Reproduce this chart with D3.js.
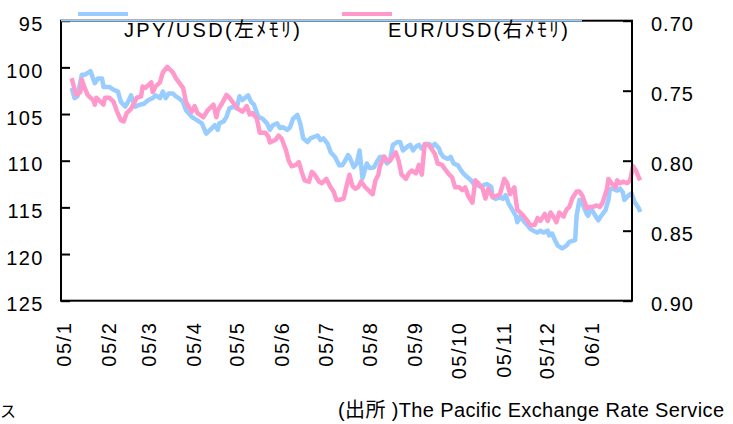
<!DOCTYPE html>
<html>
<head>
<meta charset="utf-8">
<script src="https://cdn.jsdelivr.net/npm/d3@7"></script>
<style>
  body { margin: 0; background: #fff; }
  svg { display: block; }
</style>
</head>
<body>
<script>
// Data
const jpyDates = [
  "2005-01-07","2005-01-09","2005-01-11","2005-01-14","2005-01-16","2005-01-20","2005-01-23","2005-01-25","2005-01-28","2005-01-29",
  "2005-02-02","2005-02-05","2005-02-08","2005-02-10","2005-02-13","2005-02-15","2005-02-17","2005-02-20","2005-02-23","2005-02-26",
  "2005-03-01","2005-03-04","2005-03-06","2005-03-09","2005-03-11","2005-03-13","2005-03-15","2005-03-18","2005-03-20","2005-03-22",
  "2005-03-25","2005-03-27","2005-03-31","2005-04-03","2005-04-07","2005-04-10","2005-04-14","2005-04-16","2005-04-18","2005-04-19",
  "2005-04-22","2005-04-24","2005-04-26","2005-04-29","2005-05-01","2005-05-03","2005-05-05","2005-05-09","2005-05-11","2005-05-13",
  "2005-05-16","2005-05-19","2005-05-22","2005-05-24","2005-05-26","2005-05-29","2005-05-31","2005-06-02","2005-06-05","2005-06-07",
  "2005-06-09","2005-06-12","2005-06-14","2005-06-16","2005-06-19","2005-06-21","2005-06-26","2005-06-28","2005-06-30","2005-07-03",
  "2005-07-05","2005-07-08","2005-07-11","2005-07-13","2005-07-15","2005-07-17","2005-07-18","2005-07-21","2005-07-23","2005-07-25",
  "2005-07-27","2005-07-30","2005-08-01","2005-08-04","2005-08-06","2005-08-08","2005-08-10","2005-08-13","2005-08-15","2005-08-17",
  "2005-08-20","2005-08-22","2005-08-24","2005-08-27","2005-08-29","2005-08-31","2005-09-02","2005-09-04","2005-09-06","2005-09-09",
  "2005-09-11","2005-09-13","2005-09-15","2005-09-18","2005-09-19","2005-09-21","2005-09-24","2005-09-26","2005-09-28","2005-10-01",
  "2005-10-03","2005-10-05","2005-10-07","2005-10-10","2005-10-12","2005-10-14","2005-10-17","2005-10-19","2005-10-21","2005-10-24",
  "2005-10-25","2005-10-27","2005-10-30","2005-11-01","2005-11-03","2005-11-05","2005-11-07","2005-11-10","2005-11-11","2005-11-13",
  "2005-11-15","2005-11-18","2005-11-20","2005-11-22","2005-11-25","2005-11-27","2005-11-29","2005-12-02","2005-12-03","2005-12-05",
  "2005-12-07","2005-12-09","2005-12-12","2005-12-15","2005-12-17","2005-12-21","2005-12-22","2005-12-24","2005-12-26","2005-12-29",
  "2005-12-30","2006-01-01","2006-01-04","2006-01-06","2006-01-08","2006-01-11","2006-01-13","2006-01-14","2006-01-16","2006-01-19",
  "2006-01-21","2006-01-23","2006-01-24","2006-01-27","2006-01-29","2006-01-31","2006-02-03","2006-02-04"
];
const jpyRates = [
  102.2,103.3,103.1,100.8,100.8,100.4,101.7,101.2,101.2,102.1,
  102.1,102.4,102.6,103.7,104.2,103.7,103.0,104.2,104.0,103.9,
  103.5,103.3,103.0,103.3,102.6,103.3,102.8,102.8,103.1,103.3,
  103.7,104.6,105.3,105.6,106.0,107.1,106.5,106.2,106.7,106.0,
  105.8,105.3,104.4,104.2,104.4,103.1,103.5,103.0,103.7,104.0,
  105.3,105.5,106.0,106.7,106.2,106.0,106.5,106.4,106.7,106.4,
  105.5,105.1,106.0,107.6,108.0,107.6,107.3,107.8,107.6,108.2,
  109.1,109.6,110.5,110.5,110.0,109.4,109.6,110.7,110.3,108.9,
  111.9,110.3,110.8,110.7,110.1,109.6,109.6,110.3,110.0,108.3,
  108.0,108.0,108.9,108.5,108.3,108.9,108.5,108.3,108.7,108.2,
  108.2,108.5,108.2,108.7,109.2,109.6,109.8,109.6,110.3,110.5,
  111.0,111.4,111.7,112.1,112.5,112.6,112.8,112.6,112.5,112.8,
  113.9,114.1,113.9,114.1,113.7,114.6,115.1,115.9,116.6,116.0,
  116.4,116.9,117.3,117.5,117.7,117.5,117.7,117.5,118.0,117.8,
  118.5,119.1,119.4,119.1,118.7,118.5,115.9,114.2,114.6,115.7,
  115.9,115.1,115.9,116.4,115.9,115.3,114.2,113.0,113.0,113.2,
  113.0,113.4,114.2,113.7,113.5,114.4,115.1,115.5
];
const eurDates = [
  "2005-01-07","2005-01-10","2005-01-13","2005-01-14","2005-01-16","2005-01-18","2005-01-22","2005-01-23","2005-01-24","2005-01-29",
  "2005-01-30","2005-02-02","2005-02-05","2005-02-07","2005-02-10","2005-02-12","2005-02-14","2005-02-17","2005-02-19","2005-02-21",
  "2005-02-24","2005-02-25","2005-02-27","2005-03-01","2005-03-03","2005-03-04","2005-03-06","2005-03-09","2005-03-11","2005-03-14",
  "2005-03-16","2005-03-18","2005-03-20","2005-03-25","2005-03-27","2005-03-31","2005-04-02","2005-04-04","2005-04-08","2005-04-11",
  "2005-04-15","2005-04-17","2005-04-18","2005-04-21","2005-04-24","2005-04-26","2005-04-29","2005-05-02","2005-05-05","2005-05-08",
  "2005-05-10","2005-05-12","2005-05-15","2005-05-17","2005-05-21","2005-05-23","2005-05-24","2005-05-28","2005-05-30","2005-06-01",
  "2005-06-04","2005-06-06","2005-06-08","2005-06-11","2005-06-13","2005-06-15","2005-06-17","2005-06-20","2005-06-22","2005-06-24",
  "2005-06-27","2005-06-29","2005-07-02","2005-07-05","2005-07-07","2005-07-09","2005-07-11","2005-07-14","2005-07-16","2005-07-18",
  "2005-07-20","2005-07-22","2005-07-24","2005-07-26","2005-07-29","2005-07-31","2005-08-03","2005-08-05","2005-08-07","2005-08-08",
  "2005-08-11","2005-08-13","2005-08-15","2005-08-18","2005-08-19","2005-08-21","2005-08-23","2005-08-26","2005-08-28","2005-08-30",
  "2005-09-02","2005-09-04","2005-09-06","2005-09-08","2005-09-11","2005-09-13","2005-09-15","2005-09-17","2005-09-20","2005-09-22",
  "2005-09-25","2005-09-27","2005-09-29","2005-10-02","2005-10-04","2005-10-06","2005-10-08","2005-10-11","2005-10-13","2005-10-15",
  "2005-10-18","2005-10-20","2005-10-22","2005-10-25","2005-10-28","2005-10-30","2005-11-02","2005-11-04","2005-11-06","2005-11-09",
  "2005-11-10","2005-11-11","2005-11-13","2005-11-15","2005-11-18","2005-11-20","2005-11-23","2005-11-25","2005-11-27","2005-11-30",
  "2005-12-02","2005-12-04","2005-12-06","2005-12-08","2005-12-10","2005-12-13","2005-12-15","2005-12-17","2005-12-19","2005-12-22",
  "2005-12-24","2005-12-26","2005-12-29","2005-12-31","2006-01-02","2006-01-05","2006-01-07","2006-01-09","2006-01-12","2006-01-13",
  "2006-01-15","2006-01-18","2006-01-19","2006-01-21","2006-01-23","2006-01-26","2006-01-28","2006-01-30","2006-02-01","2006-02-03",
  "2006-02-04"
];
const eurRates = [
  0.741,0.753,0.751,0.742,0.748,0.753,0.757,0.760,0.755,0.760,
  0.755,0.755,0.758,0.764,0.771,0.772,0.766,0.763,0.759,0.755,
  0.754,0.747,0.748,0.746,0.744,0.751,0.747,0.744,0.737,0.733,
  0.735,0.737,0.741,0.748,0.758,0.765,0.761,0.766,0.769,0.764,
  0.760,0.769,0.764,0.759,0.753,0.755,0.759,0.763,0.765,0.761,
  0.767,0.766,0.770,0.780,0.780,0.783,0.787,0.785,0.782,0.784,
  0.792,0.800,0.804,0.803,0.801,0.808,0.814,0.815,0.808,0.810,
  0.815,0.816,0.813,0.819,0.822,0.828,0.828,0.827,0.818,0.810,
  0.818,0.820,0.819,0.815,0.819,0.821,0.824,0.814,0.810,0.804,
  0.797,0.800,0.800,0.795,0.794,0.800,0.810,0.813,0.809,0.807,
  0.809,0.803,0.810,0.788,0.789,0.792,0.795,0.802,0.803,0.806,
  0.810,0.812,0.819,0.819,0.821,0.819,0.825,0.830,0.814,0.816,
  0.820,0.827,0.820,0.826,0.825,0.824,0.813,0.816,0.824,0.819,
  0.828,0.835,0.837,0.839,0.843,0.846,0.846,0.841,0.843,0.838,
  0.843,0.837,0.840,0.844,0.837,0.840,0.835,0.833,0.827,0.822,
  0.822,0.825,0.834,0.833,0.833,0.832,0.833,0.830,0.820,0.813,
  0.816,0.819,0.814,0.816,0.815,0.816,0.814,0.804,0.807,0.812,
  0.814
];
const jpyTicks = [95, 100, 105, 110, 115, 120, 125];
const eurTicks = [0.70, 0.75, 0.80, 0.85, 0.90];
const legendLabels = ["JPY/USD(左ﾒﾓﾘ)", "EUR/USD(右ﾒﾓﾘ)"];
const sourceLabel = "(出所 )The Pacific Exchange Rate Service";

// Dimensions
const width = 733;
const height = 424;
const margin = { top: 20.7, right: 101, bottom: 123.3, left: 61 };
const FONT = '"Liberation Sans", Arial, "Noto Sans CJK JP", sans-serif';
const blue = "#99ccff";
const pink = "#ff99cc";

const svg = d3.select("body")
  .append("svg")
  .attr("width", width)
  .attr("height", height)
  .attr("font-family", FONT);

// Scales
const parse = d3.timeParse("%Y-%m-%d");
const x = d3.scaleTime()
  .domain([new Date(2004, 11, 30, 15), new Date(2006, 0, 29, 7)])
  .range([margin.left, width - margin.right]);
const yL = d3.scaleLinear()
  .domain([95, 125])
  .range([margin.top, height - margin.bottom]);
const yR = d3.scaleLinear()
  .domain([0.70, 0.90])
  .range([margin.top, height - margin.bottom]);

const jpy = jpyDates.map((d, i) => ({ date: parse(d), v: jpyRates[i] }));
const eur = eurDates.map((d, i) => ({ date: parse(d), v: eurRates[i] }));

// Lines
svg.append("path")
  .datum(jpy)
  .attr("fill", "none")
  .attr("stroke", blue)
  .attr("stroke-width", 4.5)
  .attr("stroke-linejoin", "round")
  .attr("d", d3.line().x(d => x(d.date)).y(d => yL(d.v)));

svg.append("path")
  .datum(eur)
  .attr("fill", "none")
  .attr("stroke", pink)
  .attr("stroke-width", 4.5)
  .attr("stroke-linejoin", "round")
  .attr("d", d3.line().x(d => x(d.date)).y(d => yR(d.v)));

// Frame
svg.append("rect")
  .attr("x", margin.left)
  .attr("y", margin.top)
  .attr("width", width - margin.right - margin.left)
  .attr("height", height - margin.bottom - margin.top)
  .attr("fill", "none")
  .attr("stroke", "#000")
  .attr("stroke-width", 2);

// Axes
svg.append("g")
  .attr("transform", `translate(${margin.left},0)`)
  .call(d3.axisLeft(yL).tickValues(jpyTicks).tickSizeInner(-9).tickSizeOuter(0).tickPadding(17))
  .attr("font-family", FONT)
  .attr("font-size", 20)
  .call(g => g.select(".domain").remove())
  .call(g => g.selectAll("line").attr("stroke", "#000").attr("stroke-width", 2))
  .call(g => g.selectAll("text").attr("fill", "#000").attr("dy", "0.5em").style("letter-spacing", "1.5px"));

svg.append("g")
  .attr("transform", `translate(${width - margin.right},0)`)
  .call(d3.axisRight(yR).tickValues(eurTicks).tickFormat(d3.format(".2f")).tickSizeInner(-9).tickSizeOuter(0).tickPadding(19))
  .attr("font-family", FONT)
  .attr("font-size", 20)
  .call(g => g.select(".domain").remove())
  .call(g => g.selectAll("line").attr("stroke", "#000").attr("stroke-width", 2))
  .call(g => g.selectAll("text").attr("fill", "#000").attr("dy", "0.5em").style("letter-spacing", "1px"));

svg.append("g")
  .attr("transform", `translate(0,${height - margin.bottom})`)
  .call(d3.axisBottom(x).ticks(d3.timeMonth.every(1)).tickFormat(d3.timeFormat("%y/%-m")).tickSize(0))
  .attr("font-family", FONT)
  .attr("font-size", 20)
  .call(g => g.select(".domain").remove())
  .call(g => g.selectAll("text")
    .attr("fill", "#000")
    .attr("transform", "rotate(-90)")
    .attr("text-anchor", "end")
    .attr("x", -21)
    .attr("y", 0)
    .attr("dy", "0.36em")
    .style("letter-spacing", "1.5px"));

// Legend
svg.append("line")
  .attr("x1", margin.left).attr("x2", 582)
  .attr("y1", margin.top).attr("y2", margin.top)
  .attr("stroke", blue).attr("stroke-width", 1.5);

const legend = [
  { color: blue, x1: 78, tx: 124, tw: 176 },
  { color: pink, x1: 342, tx: 388, tw: 180 }
];
legend.forEach((l, i) => {
  svg.append("line")
    .attr("x1", l.x1).attr("x2", l.x1 + 50)
    .attr("y1", 14).attr("y2", 14)
    .attr("stroke", l.color).attr("stroke-width", 4);
  svg.append("text")
    .attr("x", l.tx).attr("y", 36.5)
    .attr("font-size", 20)
    .attr("textLength", l.tw)
    .attr("lengthAdjust", "spacing")
    .text(legendLabels[i]);
});

// Source
svg.append("text")
  .attr("x", 338).attr("y", 417)
  .attr("font-size", 20)
  .attr("textLength", 386)
  .attr("lengthAdjust", "spacing")
  .text(sourceLabel);

svg.append("text")
  .attr("x", 0).attr("y", 417)
  .attr("font-size", 16)
  .text("ス");
</script>
</body>
</html>
